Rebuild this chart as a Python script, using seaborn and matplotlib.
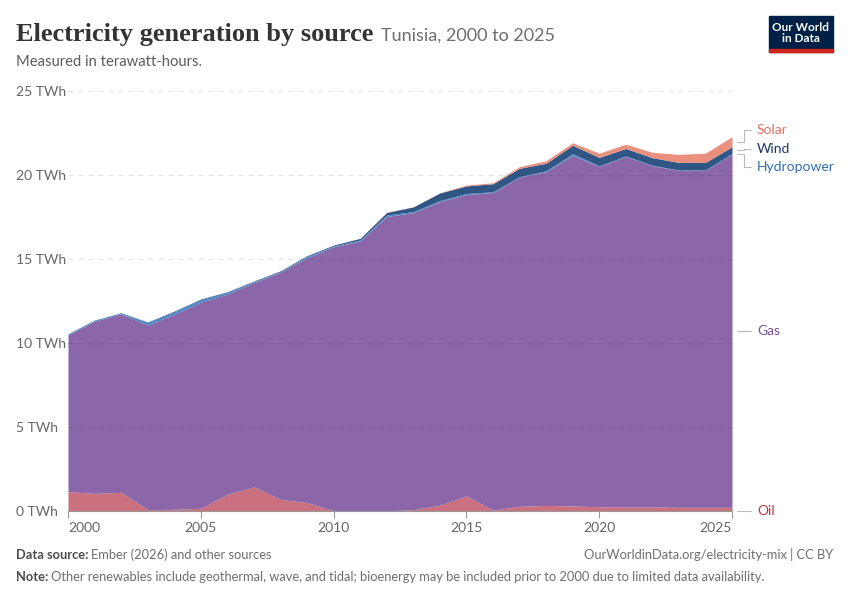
import numpy as np
import pandas as pd
import matplotlib
matplotlib.use("Agg")
import matplotlib.pyplot as plt
import seaborn as sns

# ============================
# Data (TWh)
# ============================
years = list(range(2000, 2026))
oil = [1.15, 1.05, 1.11, 0.08, 0.10, 0.16, 1.00, 1.43, 0.70, 0.50, 0.02, 0.01, 0.01,
       0.08, 0.34, 0.90, 0.05, 0.28, 0.33, 0.30, 0.25, 0.24, 0.24, 0.22, 0.22, 0.22]
gas = [9.33, 10.25, 10.62, 10.99, 11.61, 12.27, 11.91, 12.17, 13.52, 14.57, 15.71, 16.06, 17.52,
       17.68, 18.08, 17.94, 18.91, 19.60, 19.87, 20.87, 20.27, 20.86, 20.31, 20.06, 20.06, 21.03]
hydro = [0.06, 0.05, 0.04, 0.15, 0.15, 0.15, 0.10, 0.05, 0.04, 0.08, 0.05, 0.06, 0.09,
         0.06, 0.06, 0.06, 0.04, 0.02, 0.05, 0.10, 0.03, 0.03, 0.03, 0.02, 0.02, 0.03]
wind = [0.01, 0.02, 0.03, 0.03, 0.04, 0.04, 0.04, 0.04, 0.04, 0.05, 0.05, 0.10, 0.15,
        0.28, 0.45, 0.45, 0.48, 0.50, 0.45, 0.50, 0.50, 0.45, 0.45, 0.45, 0.45, 0.40]
solar = [0.0, 0.0, 0.0, 0.0, 0.0, 0.0, 0.0, 0.0, 0.0, 0.0, 0.0, 0.0, 0.01,
         0.01, 0.02, 0.05, 0.06, 0.10, 0.15, 0.15, 0.25, 0.25, 0.32, 0.48, 0.55, 0.60]

sources = ["Oil", "Gas", "Hydropower", "Wind", "Solar"]
df = pd.DataFrame({"Year": years, "Oil": oil, "Gas": gas, "Hydropower": hydro,
                   "Wind": wind, "Solar": solar})

fill_colors = {"Oil": "#cb707f", "Gas": "#8b66a8", "Hydropower": "#4c88c8",
               "Wind": "#2f5685", "Solar": "#e9907e"}
label_colors = {"Oil": "#c4334f", "Gas": "#7a4f9c", "Hydropower": "#2f6db5",
                "Wind": "#1a3763", "Solar": "#e0705c"}

# ============================
# Style
# ============================
sns.set_theme(style="white")
plt.rcParams["font.family"] = ["Lato", "DejaVu Sans"]

fig = plt.figure(figsize=(8.5, 6), dpi=100)
ax = fig.add_axes([68 / 850, 1 - 511 / 600, 664 / 850, 420 / 600])

ax.stackplot(df["Year"], [df[s] for s in sources],
             colors=[fill_colors[s] for s in sources], linewidth=0, zorder=2)

ax.set_xlim(2000, 2025)
ax.set_ylim(0, 25)

# grid
for v in [5, 10, 15, 20, 25]:
    ax.axhline(v, color="#000000", alpha=0.1, lw=0.9, ls=(0, (4, 4)), zorder=3)

ax.set_yticks([0, 5, 10, 15, 20, 25])
ax.set_yticklabels([f"{v} TWh" for v in [0, 5, 10, 15, 20, 25]], ha="left")
ax.tick_params(axis="y", length=0, pad=52 * 0.72, labelsize=10, labelcolor="#666666")

ax.set_xticks([2000, 2005, 2010, 2015, 2020, 2025])
ax.set_xticklabels(["2000", "2005", "2010", "2015", "2020", "2025"])
ax.tick_params(axis="x", length=5, width=0.8, color="#999999", labelsize=10,
               labelcolor="#666666", pad=3, bottom=True)
xt = ax.get_xticklabels()
xt[0].set_ha("left")
xt[-1].set_ha("right")

sns.despine(ax=ax, left=True, top=True, right=True)
ax.spines["bottom"].set_color("#999999")
ax.spines["bottom"].set_linewidth(0.8)

# ============================
# Right-side labels
# ============================
last = df.iloc[-1]
cum = 0
mids = {}
for s in sources:
    mids[s] = cum + last[s] / 2
    cum += last[s]

label_y = {"Oil": 0.0, "Gas": mids["Gas"]}
top3 = ["Hydropower", "Wind", "Solar"]
center = np.mean([mids[s] for s in top3])
for i, s in enumerate(top3):
    label_y[s] = center + (i - 1) * 1.1

x0 = 2025 + 5 / 26.56
xm = 2025 + 12 / 26.56
x1 = 2025 + 19 / 26.56
xl = 2025 + 25 / 26.56
for s in sources:
    ym, yl = mids[s], label_y[s]
    if s in top3:
        ax.plot([x0, xm, xm, x1], [ym, ym, yl, yl], color="#bbbbbb", lw=0.8, clip_on=False)
    else:
        ax.plot([x0, x1], [yl, yl], color="#bbbbbb", lw=0.8, clip_on=False)
    ax.text(xl, yl, s, color=label_colors[s], fontsize=10, va="center", ha="left",
            clip_on=False)

# ============================
# Header
# ============================
renderer = fig.canvas.get_renderer()
title = fig.text(16 / 850, 1 - 41 / 600, "Electricity generation by source",
                 fontsize=19, fontweight="bold", color="#333333",
                 family=["Liberation Serif", "DejaVu Serif"])
bb = title.get_window_extent(renderer)
fig.text(bb.x1 / 850 + 8 / 850, 1 - 41 / 600, "Tunisia, 2000 to 2025",
         fontsize=13, color="#6e6e6e")
fig.text(16 / 850, 1 - 66 / 600, "Measured in terawatt-hours.",
         fontsize=10.6, color="#5b5b5b")

# logo
logo = plt.Rectangle((769 / 850, 1 - 52 / 600), 64 / 850, 36 / 600,
                     transform=fig.transFigure, color="#002147", zorder=5)
fig.patches.append(logo)
bar = plt.Rectangle((769 / 850, 1 - 52 / 600), 64 / 850, 3 / 600,
                    transform=fig.transFigure, color="#ce261e", zorder=6)
fig.patches.append(bar)
fig.text(801 / 850, 1 - 33 / 600, "Our World\nin Data", color="white", fontsize=8.5,
         ha="center", va="center", linespacing=1.0, zorder=7, fontweight="bold")

# ============================
# Footer
# ============================
src = fig.text(16 / 850, 1 - 559 / 600, "Data source:", fontsize=9.3,
               fontweight="bold", color="#4d4d4d")
bb = src.get_window_extent(renderer)
fig.text(bb.x1 / 850 + 3 / 850, 1 - 559 / 600, "Ember (2026) and other sources",
         fontsize=9.3, color="#6e6e6e")
fig.text(833 / 850, 1 - 559 / 600, "OurWorldinData.org/electricity-mix | CC BY",
         fontsize=9.3, color="#6e6e6e", ha="right")
note = fig.text(16 / 850, 1 - 581 / 600, "Note:", fontsize=9.3, fontweight="bold",
                color="#4d4d4d")
bb = note.get_window_extent(renderer)
fig.text(bb.x1 / 850 + 3 / 850, 1 - 581 / 600,
         "Other renewables include geothermal, wave, and tidal; bioenergy may be "
         "included prior to 2000 due to limited data availability.",
         fontsize=9.3, color="#6e6e6e")

fig.savefig("out.png", dpi=100, facecolor="white")
